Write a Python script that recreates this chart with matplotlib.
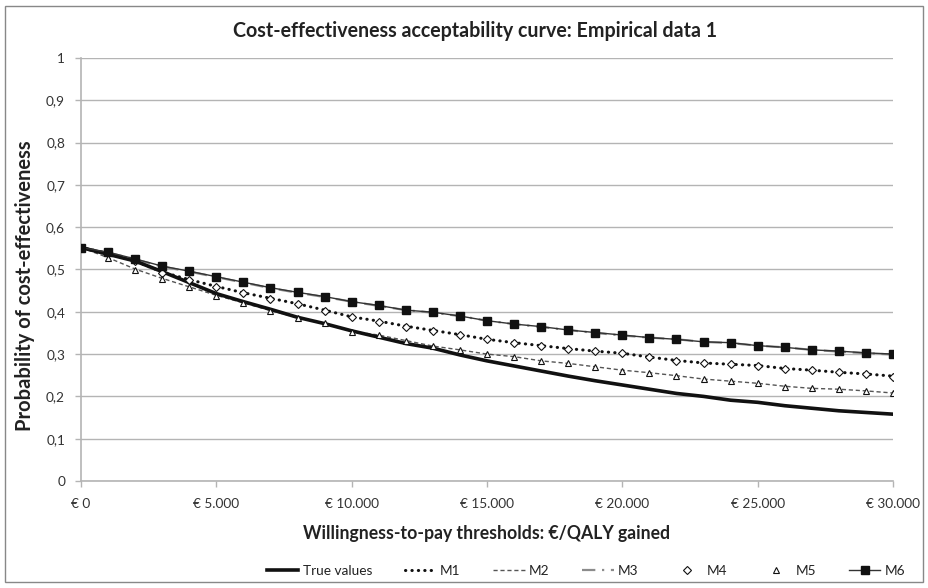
import matplotlib
matplotlib.use("Agg")
import matplotlib.pyplot as plt
from matplotlib.ticker import FuncFormatter, MultipleLocator
from matplotlib.patches import Rectangle

plt.rcParams['font.family'] = ['Lato', 'DejaVu Sans']

wtp = [i * 1000 for i in range(31)]

true_values = [0.552, 0.536, 0.520, 0.495, 0.469, 0.443, 0.424, 0.406, 0.387, 0.372, 0.355,
               0.340, 0.325, 0.314, 0.298, 0.284, 0.272, 0.260, 0.248, 0.237, 0.227,
               0.217, 0.207, 0.200, 0.191, 0.186, 0.178, 0.172, 0.166, 0.162, 0.158]
m1 = [0.552, 0.538, 0.520, 0.494, 0.476, 0.460, 0.445, 0.432, 0.419, 0.404, 0.388,
      0.378, 0.366, 0.356, 0.346, 0.335, 0.327, 0.320, 0.313, 0.307, 0.302,
      0.293, 0.285, 0.279, 0.276, 0.273, 0.266, 0.262, 0.257, 0.253, 0.248]
m2 = [0.552, 0.528, 0.501, 0.479, 0.459, 0.439, 0.421, 0.403, 0.386, 0.373, 0.354,
      0.345, 0.332, 0.319, 0.310, 0.300, 0.294, 0.284, 0.278, 0.270, 0.262,
      0.256, 0.249, 0.241, 0.236, 0.231, 0.224, 0.219, 0.217, 0.213, 0.208]
m3 = [0.552, 0.540, 0.524, 0.507, 0.495, 0.482, 0.469, 0.456, 0.445, 0.435, 0.424,
      0.414, 0.404, 0.398, 0.390, 0.379, 0.371, 0.364, 0.357, 0.350, 0.344,
      0.339, 0.335, 0.329, 0.326, 0.320, 0.316, 0.310, 0.306, 0.302, 0.299]
m4 = [0.552, 0.538, 0.520, 0.492, 0.475, 0.459, 0.444, 0.431, 0.418, 0.403, 0.387,
      0.377, 0.365, 0.355, 0.346, 0.335, 0.327, 0.320, 0.313, 0.307, 0.302,
      0.292, 0.284, 0.278, 0.276, 0.273, 0.265, 0.262, 0.257, 0.253, 0.247]
m5 = [0.552, 0.528, 0.500, 0.478, 0.458, 0.437, 0.421, 0.402, 0.385, 0.373, 0.353,
      0.345, 0.332, 0.319, 0.310, 0.300, 0.294, 0.284, 0.278, 0.270, 0.261,
      0.256, 0.249, 0.241, 0.236, 0.231, 0.223, 0.219, 0.217, 0.213, 0.207]
m6 = [0.552, 0.541, 0.525, 0.508, 0.496, 0.483, 0.470, 0.457, 0.446, 0.436, 0.424,
      0.415, 0.404, 0.399, 0.390, 0.379, 0.371, 0.365, 0.357, 0.351, 0.345,
      0.339, 0.335, 0.329, 0.327, 0.320, 0.316, 0.310, 0.307, 0.303, 0.300]

title = "Cost-effectiveness acceptability curve: Empirical data 1"
xlabel = "Willingness-to-pay thresholds: €/QALY gained"
ylabel = "Probability of cost-effectiveness"

W, H = 929, 588
fig = plt.figure(figsize=(W / 100, H / 100), dpi=100)
renderer = fig.canvas.get_renderer()


def fitted_size(text, target_px, weight='normal', base=12.0):
    t = fig.text(0, 0, text, fontsize=base, fontweight=weight)
    w = t.get_window_extent(renderer).width
    t.remove()
    return base * target_px / w


title_fs = fitted_size(title, 480, 'bold')
xlab_fs = fitted_size(xlabel, 365, 'bold')
ylab_fs = fitted_size(ylabel, 290, 'bold')
tick_fs = fitted_size('€ 30.000', 54)

fig.patches.append(Rectangle((5 / W, 6 / H), 918 / W, 576 / H, transform=fig.transFigure,
                             fill=False, edgecolor='#888888', linewidth=1.0))
ax = fig.add_axes([81 / W, 1 - 481 / H, 812 / W, 423 / H])

ax.plot(wtp, m3, color='#8c8c8c', linestyle=(0, (6, 3, 1, 3)), linewidth=1.6, label='M3', zorder=3)
ax.plot(wtp, m2, color='#555555', linestyle=(0, (3, 2)), linewidth=1.0, label='M2', zorder=3)
ax.plot(wtp, m1, color='#111111', linestyle=(0, (0.1, 2.0)), linewidth=2.2,
        dash_capstyle='round', label='M1', zorder=3)
ax.plot(wtp, true_values, color='#111111', linewidth=2.6, label='True values', zorder=4)
ax.plot(wtp, m4, linestyle='none', marker='D', markersize=4, markerfacecolor='white',
        markeredgecolor='#111111', markeredgewidth=0.8, label='M4', zorder=5)
ax.plot(wtp, m5, linestyle='none', marker='^', markersize=5, markerfacecolor='white',
        markeredgecolor='#111111', markeredgewidth=0.8, label='M5', zorder=5)
ax.plot(wtp, m6, color='#333333', linewidth=1.0, marker='s', markersize=5.5,
        markerfacecolor='#111111', markeredgecolor='#111111', label='M6', zorder=5)

ax.set_xlim(0, 30000)
ax.set_ylim(0, 1)
ax.yaxis.set_major_locator(MultipleLocator(0.1))
ax.xaxis.set_major_locator(MultipleLocator(5000))
ax.yaxis.set_major_formatter(FuncFormatter(
    lambda v, p: ('%g' % round(v, 1)).replace('.', ',')))
ax.xaxis.set_major_formatter(FuncFormatter(
    lambda v, p: '€ ' + format(int(round(v)), ',').replace(',', '.')))
ax.grid(axis='y', color='#b4b4b4', linewidth=1.0)
ax.set_axisbelow(True)
for s in ['top', 'right']:
    ax.spines[s].set_visible(False)
ax.spines['left'].set_color('#b4b4b4')
ax.spines['bottom'].set_color('#b4b4b4')
ax.spines['left'].set_linewidth(1.2)
ax.spines['bottom'].set_linewidth(1.2)
ax.tick_params(axis='both', colors='#b4b4b4', labelcolor='#333333', labelsize=tick_fs,
               length=4.5, width=1)
ax.tick_params(axis='x', pad=8)
ax.tick_params(axis='y', pad=7)

fig.text(475 / W, 1 - 31 / H, title, ha='center', va='center', fontsize=title_fs,
         fontweight='bold', color='#222222')
fig.text(487 / W, 1 - 534 / H, xlabel, ha='center', va='center', fontsize=xlab_fs,
         fontweight='bold', color='#222222')
fig.text(25 / W, 1 - 286 / H, ylabel, ha='center', va='center', fontsize=ylab_fs,
         fontweight='bold', color='#222222', rotation=90)

handles, labels = ax.get_legend_handles_labels()
order = ['True values', 'M1', 'M2', 'M3', 'M4', 'M5', 'M6']
hmap = dict(zip(labels, handles))
fig.legend([hmap[k] for k in order], order, loc='center', bbox_to_anchor=(586 / W, 1 - 571 / H),
           ncol=7, frameon=False, fontsize=tick_fs, handlelength=2.3, handletextpad=0.3,
           columnspacing=2.4, labelcolor='#222222')

fig.savefig('out.png', dpi=100)
